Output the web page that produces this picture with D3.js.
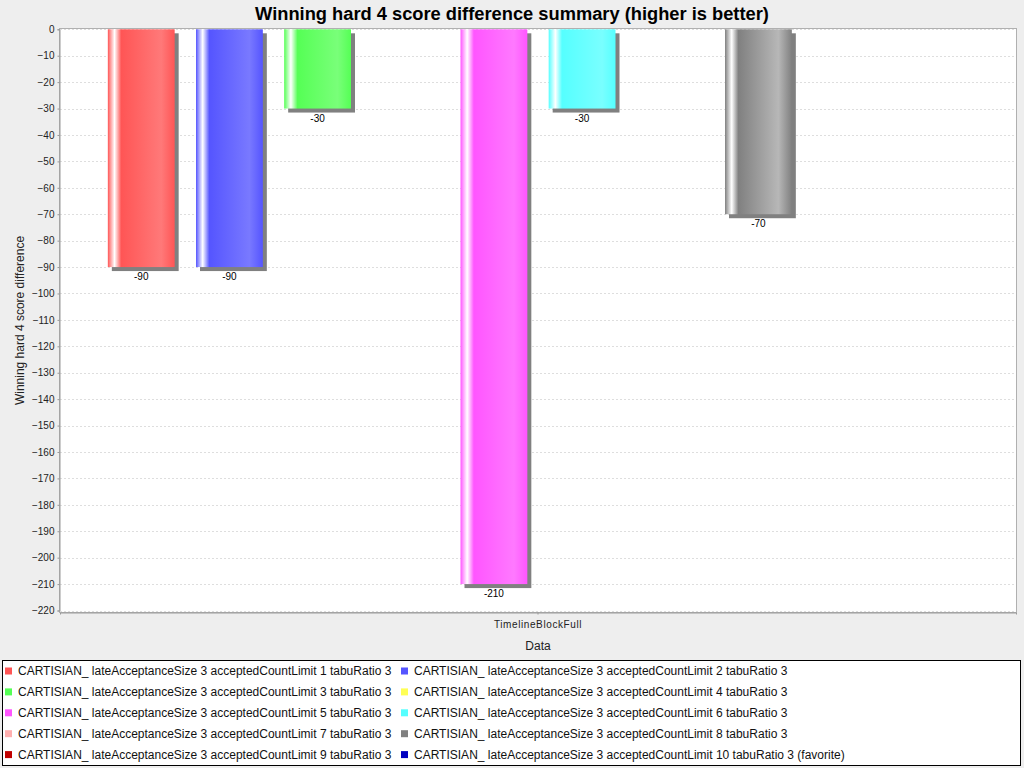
<!DOCTYPE html>
<html><head><meta charset="utf-8">
<script src="https://cdn.jsdelivr.net/npm/d3@7"></script>
<style>
html,body{margin:0;padding:0;background:#eeeeee;}
svg{display:block;font-family:"Liberation Sans",Arial,sans-serif;}
</style></head>
<body>
<svg id="chart" width="1024" height="768"></svg>
<script>
const title = "Winning hard 4 score difference summary (higher is better)";
const yLabel = "Winning hard 4 score difference";
const xLabel = "Data";
const categories = ["TimelineBlockFull"];
const seriesNames = [
  "CARTISIAN_ lateAcceptanceSize 3 acceptedCountLimit 1 tabuRatio 3",
  "CARTISIAN_ lateAcceptanceSize 3 acceptedCountLimit 2 tabuRatio 3",
  "CARTISIAN_ lateAcceptanceSize 3 acceptedCountLimit 3 tabuRatio 3",
  "CARTISIAN_ lateAcceptanceSize 3 acceptedCountLimit 4 tabuRatio 3",
  "CARTISIAN_ lateAcceptanceSize 3 acceptedCountLimit 5 tabuRatio 3",
  "CARTISIAN_ lateAcceptanceSize 3 acceptedCountLimit 6 tabuRatio 3",
  "CARTISIAN_ lateAcceptanceSize 3 acceptedCountLimit 7 tabuRatio 3",
  "CARTISIAN_ lateAcceptanceSize 3 acceptedCountLimit 8 tabuRatio 3",
  "CARTISIAN_ lateAcceptanceSize 3 acceptedCountLimit 9 tabuRatio 3",
  "CARTISIAN_ lateAcceptanceSize 3 acceptedCountLimit 10 tabuRatio 3 (favorite)"
];
const seriesValues = [-90, -90, -30, null, -210, -30, null, -70, null, null];
const seriesColors = ["#ff5555","#5555ff","#55ff55","#ffff55","#ff55ff","#55ffff","#ffafaf","#808080","#c00000","#0000c0"];
const yTicks = d3.range(0, -221, -10);

const svg = d3.select("#chart");
const plot = {left: 60, right: 1016, top: 29, bottom: 612};

// gradients (JFreeChart GradientBarPainter style)
const defs = svg.append("defs");
function brighter(c){
  const r = d3.rgb(c);
  const f = v => v === 0 ? 0 : Math.min(255, Math.round(v/0.7));
  return d3.rgb(f(r.r),f(r.g),f(r.b)).formatHex();
}
seriesColors.forEach((c,i)=>{
  const g = defs.append("linearGradient").attr("id","g"+i).attr("x1","0").attr("x2","1").attr("y1","0").attr("y2","0");
  [[0,c],[0.10,"#ffffff"],[0.20,c],[0.80,brighter(c)],[1,c]].forEach(([o,col])=>{
    g.append("stop").attr("offset",o).attr("stop-color",col);
  });
});

// plot background
svg.append("rect").attr("x",plot.left).attr("y",plot.top).attr("width",plot.right-plot.left).attr("height",plot.bottom-plot.top).attr("fill","#ffffff");

const y = d3.scaleLinear().domain([-220,0]).range([610.5,29.3]);
const x0 = d3.scaleBand().domain(categories).range([plot.left, plot.right]).paddingOuter(0.0556).paddingInner(0);
const x1 = d3.scaleBand().domain(d3.range(seriesNames.length)).range([0, x0.bandwidth()]).paddingInner(0.242).paddingOuter(0);

// gridlines
svg.append("g").selectAll("line").data(yTicks).join("line")
  .attr("x1",plot.left).attr("x2",plot.right)
  .attr("y1",d=>Math.round(y(d))+0.5).attr("y2",d=>Math.round(y(d))+0.5)
  .attr("stroke","#dedede").attr("stroke-width",1).attr("stroke-dasharray","2,2");

// plot outline
svg.append("rect").attr("x",plot.left-0.5).attr("y",plot.top-0.5).attr("width",plot.right-plot.left+1).attr("height",plot.bottom-plot.top+1)
  .attr("fill","none").attr("stroke","#b0b0b0").attr("stroke-width",1);

const bars = seriesValues.map((v,i)=>({v,i,cat:categories[0]})).filter(d=>d.v!==null);
const barG = svg.append("g");
// shadows
barG.selectAll("rect.shadow").data(bars).join("rect").attr("class","shadow")
  .attr("x",d=>x0(d.cat)+x1(d.i)+4).attr("y",d=>y(0)+4)
  .attr("width",x1.bandwidth()).attr("height",d=>y(d.v)-y(0))
  .attr("fill","#808080");
barG.selectAll("rect.bar").data(bars).join("rect").attr("class","bar")
  .attr("x",d=>x0(d.cat)+x1(d.i)).attr("y",d=>y(0))
  .attr("width",x1.bandwidth()).attr("height",d=>y(d.v)-y(0))
  .attr("fill",d=>"url(#g"+d.i+")");
barG.selectAll("text").data(bars).join("text")
  .attr("x",d=>x0(d.cat)+x1(d.i)+x1.bandwidth()/2).attr("y",d=>y(d.v)+13)
  .attr("text-anchor","middle").attr("font-size","10px").attr("fill","#000")
  .text(d=>d.v);

// y axis
const yAxis = d3.axisLeft(y).tickValues(yTicks).tickSize(2).tickPadding(3);
const ya = svg.append("g").attr("transform",`translate(${plot.left-0.5},0)`).call(yAxis);
ya.select(".domain").attr("stroke","#999999");
ya.selectAll(".tick line").attr("stroke","#999999");
ya.selectAll(".tick text").attr("font-size","10px").attr("fill","#222").attr("font-family","Liberation Sans, Arial, sans-serif");

// x axis
const xAxis = d3.axisBottom(x0).tickSize(2).tickPadding(6);
const xa = svg.append("g").attr("transform",`translate(0,${plot.bottom+0.5})`).call(xAxis);
xa.select(".domain").attr("stroke","#999999");
xa.selectAll(".tick line").attr("stroke","#999999");
xa.selectAll(".tick text").attr("font-size","10px").attr("fill","#222").attr("letter-spacing","0.6px").attr("font-family","Liberation Sans, Arial, sans-serif");

// title & labels
svg.append("text").attr("x",512).attr("y",20).attr("text-anchor","middle").attr("font-size","18.3px").attr("font-weight","bold").attr("fill","#000").text(title);
svg.append("text").attr("transform",`translate(24,${(plot.top+plot.bottom)/2}) rotate(-90)`).attr("text-anchor","middle").attr("font-size","12px").attr("fill","#222").text(yLabel);
svg.append("text").attr("x",(plot.left+plot.right)/2).attr("y",650).attr("text-anchor","middle").attr("font-size","12px").attr("fill","#222").text(xLabel);

// legend
svg.append("rect").attr("x",2.5).attr("y",660.5).attr("width",1018).attr("height",105).attr("fill","#ffffff").attr("stroke","#000").attr("stroke-width",1);
const lg = svg.append("g");
const items = lg.selectAll("g").data(seriesNames).join("g")
  .attr("transform",(d,i)=>`translate(${i%2===0?5:401},${671+Math.floor(i/2)*20.9})`);
items.append("rect").attr("x",0).attr("y",-3.5).attr("width",7).attr("height",7).attr("fill",(d,i)=>seriesColors[i]);
items.append("text").attr("x",13).attr("y",4).attr("font-size","12px").attr("fill","#111").text(d=>d);
</script>
</body></html>
